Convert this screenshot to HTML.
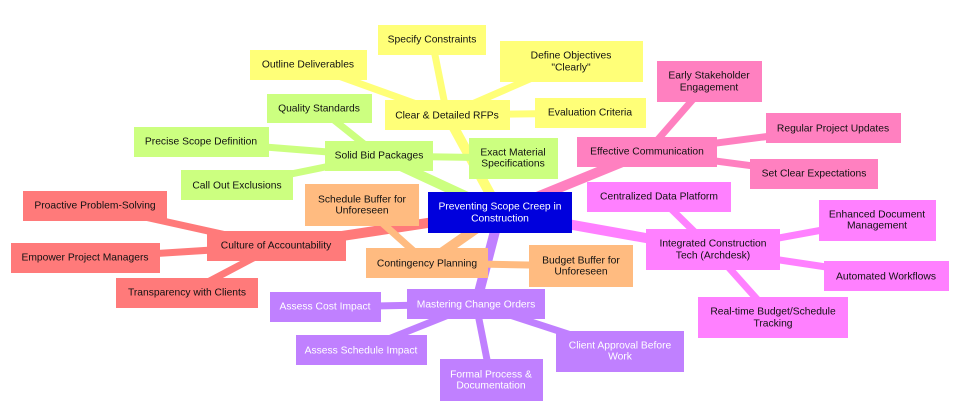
<!DOCTYPE html>
<html><head><meta charset="utf-8"><style>
html,body{margin:0;padding:0;background:#fff;width:970px;height:420px;overflow:hidden}
svg text{font-family:"Liberation Sans",sans-serif;font-size:10.3px;text-anchor:middle;dominant-baseline:central}
</style></head><body>
<svg width="970" height="420" viewBox="0 0 970 420" xmlns="http://www.w3.org/2000/svg">
<g stroke-linecap="butt">
<!-- root edges -->
<g stroke-width="10">
<line x1="500" y1="212" x2="447" y2="115" stroke="#ffff78"/>
<line x1="500" y1="212" x2="379" y2="156" stroke="#ccff80"/>
<line x1="500" y1="212" x2="647" y2="152" stroke="#ff80c0"/>
<line x1="500" y1="212" x2="713" y2="250" stroke="#ff80ff"/>
<line x1="500" y1="212" x2="427" y2="263" stroke="#ffbb80"/>
<line x1="500" y1="212" x2="476" y2="304" stroke="#c080ff"/>
<line x1="500" y1="212" x2="276" y2="246" stroke="#ff7a7a"/>
</g>
<g stroke-width="7">
<g stroke="#ffff78">
<line x1="447" y1="115" x2="432" y2="40"/>
<line x1="447" y1="115" x2="308" y2="65"/>
<line x1="447" y1="115" x2="571" y2="61"/>
<line x1="447" y1="115" x2="590" y2="113"/>
</g>
<g stroke="#ccff80">
<line x1="379" y1="156" x2="319" y2="108"/>
<line x1="379" y1="156" x2="201" y2="142"/>
<line x1="379" y1="156" x2="513" y2="158"/>
<line x1="379" y1="156" x2="237" y2="185"/>
</g>
<g stroke="#ff80c0">
<line x1="647" y1="152" x2="709" y2="81"/>
<line x1="647" y1="152" x2="833" y2="128"/>
<line x1="647" y1="152" x2="814" y2="174"/>
</g>
<g stroke="#ff80ff">
<line x1="713" y1="250" x2="659" y2="197"/>
<line x1="713" y1="250" x2="877" y2="220"/>
<line x1="713" y1="250" x2="886" y2="276"/>
<line x1="713" y1="250" x2="773" y2="317"/>
</g>
<g stroke="#ffbb80">
<line x1="427" y1="263" x2="362" y2="205"/>
<line x1="427" y1="263" x2="581" y2="266"/>
</g>
<g stroke="#c080ff">
<line x1="476" y1="304" x2="325" y2="307"/>
<line x1="476" y1="304" x2="361" y2="350"/>
<line x1="476" y1="304" x2="491" y2="380"/>
<line x1="476" y1="304" x2="620" y2="351"/>
</g>
<g stroke="#ff7a7a">
<line x1="276" y1="246" x2="95" y2="206"/>
<line x1="276" y1="246" x2="85" y2="258"/>
<line x1="276" y1="246" x2="187" y2="293"/>
</g>
</g>
</g>
<!-- nodes -->
<g fill="#ffff78">
<rect x="378" y="25" width="108" height="30"/>
<rect x="250" y="50" width="117" height="30"/>
<rect x="500" y="41" width="143" height="41"/>
<rect x="535" y="98" width="111" height="30"/>
<rect x="385" y="100" width="125" height="30"/>
</g>
<g fill="#ccff80">
<rect x="267" y="94" width="105" height="29"/>
<rect x="134" y="127" width="135" height="30"/>
<rect x="469" y="138" width="89" height="41"/>
<rect x="181" y="170" width="112" height="30"/>
<rect x="325" y="141" width="108" height="30"/>
</g>
<g fill="#ff80c0">
<rect x="657" y="61" width="105" height="41"/>
<rect x="766" y="113" width="135" height="30"/>
<rect x="750" y="159" width="128" height="30"/>
<rect x="577" y="137" width="140" height="30"/>
</g>
<g fill="#ff80ff">
<rect x="587" y="182" width="144" height="30"/>
<rect x="819" y="200" width="117" height="41"/>
<rect x="824" y="261" width="125" height="30"/>
<rect x="698" y="297" width="150" height="41"/>
<rect x="646" y="229" width="134" height="41"/>
</g>
<g fill="#ffbb80">
<rect x="305" y="184" width="114" height="42"/>
<rect x="529" y="245" width="104" height="42"/>
<rect x="366" y="248" width="122" height="30"/>
</g>
<g fill="#c080ff">
<rect x="270" y="292" width="111" height="30"/>
<rect x="296" y="335" width="131" height="30"/>
<rect x="440" y="359" width="103" height="42"/>
<rect x="556" y="331" width="128" height="41"/>
<rect x="407" y="289" width="138" height="30"/>
</g>
<g fill="#ff7a7a">
<rect x="23" y="191" width="144" height="30"/>
<rect x="11" y="243" width="149" height="30"/>
<rect x="116" y="278" width="142" height="30"/>
<rect x="207" y="231" width="139" height="30"/>
</g>
<rect x="428" y="192" width="144" height="41" fill="#0000dd"/>
<!-- texts -->
<g fill="#111">
<text x="432" y="40">Specify Constraints</text>
<text x="308" y="65">Outline Deliverables</text>
<text x="571" y="56">Define Objectives</text><text x="571" y="68">"Clearly"</text>
<text x="590" y="113">Evaluation Criteria</text>
<text x="447" y="116">Clear &amp; Detailed RFPs</text>
<text x="319" y="109">Quality Standards</text>
<text x="201" y="142">Precise Scope Definition</text>
<text x="513" y="153">Exact Material</text><text x="513" y="164">Specifications</text>
<text x="237" y="186">Call Out Exclusions</text>
<text x="379" y="156">Solid Bid Packages</text>
<text x="709" y="76">Early Stakeholder</text><text x="709" y="88">Engagement</text>
<text x="833" y="129">Regular Project Updates</text>
<text x="814" y="174">Set Clear Expectations</text>
<text x="647" y="152">Effective Communication</text>
<text x="659" y="197">Centralized Data Platform</text>
<text x="877" y="215">Enhanced Document</text><text x="877" y="226">Management</text>
<text x="886" y="277">Automated Workflows</text>
<text x="773" y="312">Real-time Budget/Schedule</text><text x="773" y="324">Tracking</text>
<text x="713" y="244">Integrated Construction</text><text x="713" y="256">Tech (Archdesk)</text>
<text x="362" y="200">Schedule Buffer for</text><text x="362" y="211">Unforeseen</text>
<text x="581" y="261">Budget Buffer for</text><text x="581" y="272">Unforeseen</text>
<text x="427" y="264">Contingency Planning</text>
<text x="95" y="206">Proactive Problem-Solving</text>
<text x="85" y="258">Empower Project Managers</text>
<text x="187" y="293">Transparency with Clients</text>
<text x="276" y="246">Culture of Accountability</text>
</g>
<g fill="#fff">
<text x="325" y="307">Assess Cost Impact</text>
<text x="361" y="351">Assess Schedule Impact</text>
<text x="491" y="375">Formal Process &amp;</text><text x="491" y="386">Documentation</text>
<text x="620" y="346">Client Approval Before</text><text x="620" y="357">Work</text>
<text x="476" y="305">Mastering Change Orders</text>
<text x="500" y="207">Preventing Scope Creep in</text><text x="500" y="219">Construction</text>
</g>
</svg>
</body></html>
